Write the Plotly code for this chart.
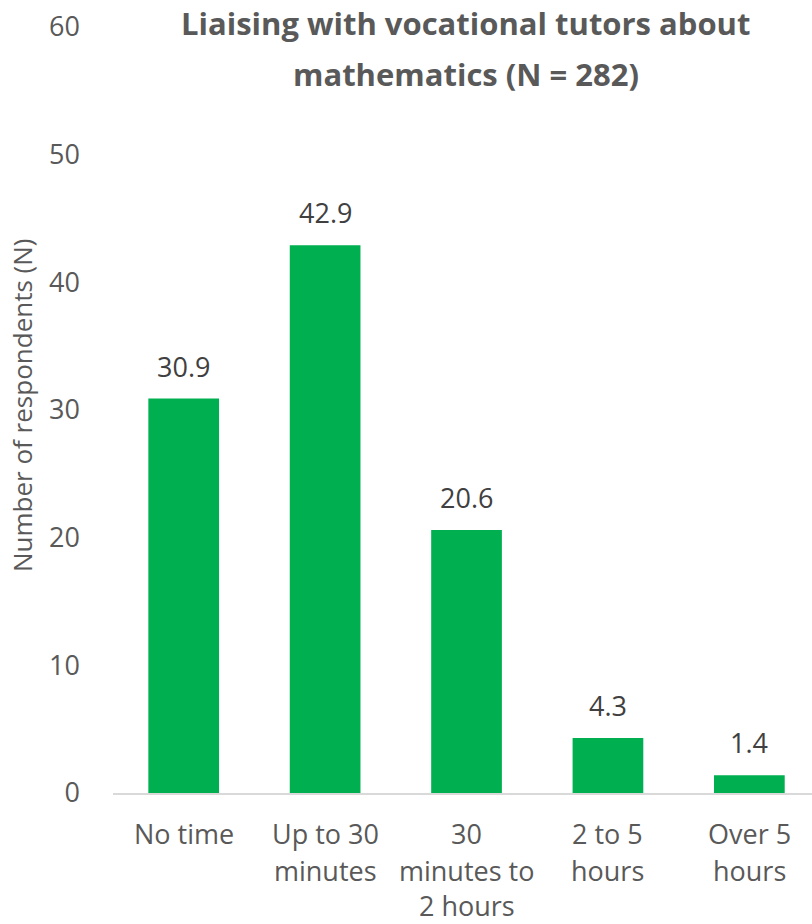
import plotly.graph_objects as go

categories = ["No time", "Up to 30<br>minutes", "30<br>minutes to<br>2 hours", "2 to 5<br>hours", "Over 5<br>hours"]
values = [30.9, 42.9, 20.6, 4.3, 1.4]
value_labels = ["30.9", "42.9", "20.6", "4.3", "1.4"]
ytick_vals = [0, 10, 20, 30, 40, 50, 60]

title_lines = ["Liaising with vocational tutors about", "mathematics (N = 282)"]
y_title = "Number of respondents (N)"

FONT = "Open Sans"
GREY = "#595959"
DARK = "#404040"
GREEN = "#00B050"

xs = list(range(len(categories)))

fig = go.Figure()
fig.add_trace(go.Bar(x=xs, y=values, marker=dict(color=GREEN, line=dict(width=0)), width=0.5,
                     hoverinfo="skip"))

annotations = []
# data labels
for x, v, t in zip(xs, values, value_labels):
    annotations.append(dict(x=x, y=v, xref="x", yref="y", text=t, showarrow=False,
                            yanchor="bottom", yshift=12,
                            font=dict(family=FONT, size=27, color=DARK)))
# category labels (multi-line with Excel-like spacing)
line_shifts = [-40, -77, -112]
for x, c in zip(xs, categories):
    for i, line in enumerate(c.split("<br>")):
        annotations.append(dict(x=x, y=0, xref="x", yref="y", text=line, showarrow=False,
                                yanchor="middle", yshift=line_shifts[i], borderpad=0,
                                font=dict(family=FONT, size=27, color=GREY)))

W, H = 812, 924
ML, MR, MT, MB = 113, 0, 27, 131
pw, ph = W - ML - MR, H - MT - MB

def px_paper(px, py):
    return (px - ML) / pw, 1 - (py - MT) / ph

# title
for i, line in enumerate(title_lines):
    ax, ay = px_paper(466, 23 + i * 51)
    annotations.append(dict(x=ax, y=ay, xref="paper", yref="paper", text="<b>" + line + "</b>",
                            showarrow=False, xanchor="center", yanchor="middle",
                            font=dict(family=FONT, size=31, color=GREY)))
# y axis title
ax, ay = px_paper(22, 405)
annotations.append(dict(x=ax, y=ay, xref="paper", yref="paper", text=y_title, textangle=-90,
                        showarrow=False, xanchor="center", yanchor="middle",
                        font=dict(family=FONT, size=26, color=GREY)))

fig.update_layout(
    width=W, height=H,
    margin=dict(l=ML, r=MR, t=MT, b=MB, pad=0),
    plot_bgcolor="white", paper_bgcolor="white",
    showlegend=False,
    bargap=0.5,
    xaxis=dict(range=[-0.5, 4.443], showticklabels=False, ticks="", showgrid=False, zeroline=False,
               showline=True, linecolor="#D9D9D9", linewidth=1.5),
    yaxis=dict(range=[0, 60], tickvals=ytick_vals, showgrid=False, zeroline=False, showline=False,
               ticks="", ticklabelstandoff=32,
               tickfont=dict(family=FONT, size=27, color=GREY)),
    annotations=annotations,
)
fig.write_html("out.html")
